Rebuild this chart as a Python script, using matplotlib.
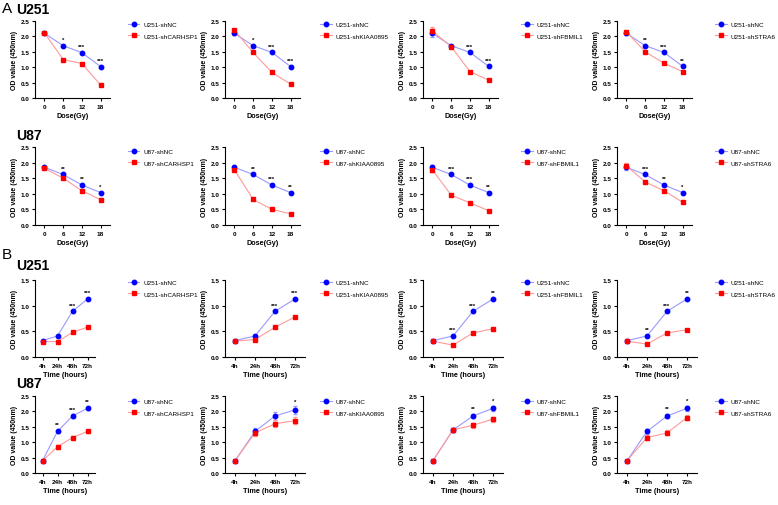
import matplotlib
matplotlib.use("Agg")
import matplotlib.pyplot as plt
from matplotlib.lines import Line2D

plt.rcParams['font.family'] = ['Liberation Sans', 'DejaVu Sans']

W, H = 778, 506

dose_labels = ["0", "6", "12", "18"]
time_labels = ["4h", "24h", "48h", "72h"]
genes = ["CARHSP1", "KIAA0895", "FBMIL1", "STRA6"]

# Row A-U251 (dose)
a251_nc = [[2.10, 1.70, 1.47, 1.02], [2.10, 1.70, 1.48, 1.02],
           [2.10, 1.70, 1.48, 1.03], [2.10, 1.70, 1.48, 1.03]]
a251_kd = [[2.12, 1.25, 1.12, 0.42], [2.20, 1.48, 0.83, 0.45],
           [2.17, 1.67, 0.86, 0.58], [2.15, 1.50, 1.13, 0.86]]
a251_err = [[0.03, 0.03, 0.03, 0.03], [0.04, 0.03, 0.03, 0.03],
            [0.12, 0.03, 0.03, 0.03], [0.04, 0.03, 0.03, 0.03]]
a251_sig = [["", "*", "***", "***"], ["", "*", "***", "***"],
            ["", "", "***", "***"], ["", "**", "***", "**"]]

# Row A-U87 (dose)
a87_nc = [[1.85, 1.62, 1.28, 1.04]] * 4
a87_kd = [[1.82, 1.50, 1.10, 0.81], [1.77, 0.82, 0.50, 0.36],
          [1.77, 0.96, 0.71, 0.46], [1.90, 1.38, 1.10, 0.73]]
a87_err = [[0.04, 0.04, 0.04, 0.03], [0.05, 0.03, 0.03, 0.03],
           [0.06, 0.03, 0.04, 0.03], [0.08, 0.03, 0.03, 0.03]]
a87_sig = [["", "**", "**", "*"], ["", "**", "***", "**"],
           ["", "***", "***", "**"], ["", "***", "**", "*"]]

# Row B-U251 (time)
b251_nc = [[0.32, 0.41, 0.89, 1.13]] * 4
b251_kd = [[0.30, 0.30, 0.48, 0.58], [0.31, 0.34, 0.58, 0.78],
           [0.31, 0.23, 0.47, 0.55], [0.31, 0.25, 0.47, 0.53]]
b251_err = [[0.02, 0.02, 0.02, 0.02]] * 4
b251_sig = [["", "", "***", "***"], ["", "", "***", "***"],
            ["", "***", "***", "**"], ["", "**", "***", "**"]]

# Row B-U87 (time)
b87_nc = [[0.40, 1.35, 1.85, 2.10], [0.40, 1.35, 1.85, 2.05],
          [0.40, 1.40, 1.85, 2.10], [0.40, 1.35, 1.85, 2.10]]
b87_kd = [[0.40, 0.85, 1.15, 1.35], [0.40, 1.30, 1.60, 1.70],
          [0.40, 1.40, 1.55, 1.75], [0.40, 1.15, 1.30, 1.80]]
b87_err = [[0.03, 0.06, 0.05, 0.05], [0.03, 0.10, 0.12, 0.12],
           [0.03, 0.06, 0.08, 0.08], [0.03, 0.08, 0.08, 0.08]]
b87_sig = [["", "**", "***", "**"], ["", "", "", "*"],
           ["", "", "**", "*"], ["", "", "**", "*"]]

fig = plt.figure(figsize=(W / 100, H / 100), dpi=100)

BLUE = "#0000ff"
RED = "#ff0000"
BLUE_L = "#9a9aff"
RED_L = "#ff9a9a"


def px_axes(x0, ytop, w, ybot):
    return fig.add_axes([x0 / W, 1 - ybot / H, w / W, (ybot - ytop) / H])


col_x = [35, 225, 423, 617]
leg_x = [128, 320, 521, 715]

rows = [
    dict(nc=a251_nc, kd=a251_kd, err=a251_err, sig=a251_sig, cell="U251",
         labels=dose_labels, xlabel="Dose(Gy)", ymax=2.5, ytop=22, ybot=99,
         legy=27, kind="dose"),
    dict(nc=a87_nc, kd=a87_kd, err=a87_err, sig=a87_sig, cell="U87",
         labels=dose_labels, xlabel="Dose(Gy)", ymax=2.5, ytop=148, ybot=226,
         legy=154, kind="dose"),
    dict(nc=b251_nc, kd=b251_kd, err=b251_err, sig=b251_sig, cell="U251",
         labels=time_labels, xlabel="Time (hours)", ymax=1.5, ytop=281, ybot=358,
         legy=285, kind="time"),
    dict(nc=b87_nc, kd=b87_kd, err=b87_err, sig=b87_sig, cell="U87",
         labels=time_labels, xlabel="Time (hours)", ymax=2.5, ytop=397, ybot=474,
         legy=404, kind="time"),
]

xs = [0, 1, 2, 3]
for r in rows:
    for c in range(4):
        if r["kind"] == "dose":
            w = 75
        else:
            w = 60 if c == 0 else 80
        ax = px_axes(col_x[c], r["ytop"], w, r["ybot"])
        ax.plot(xs, r["nc"][c], color=BLUE_L, lw=0.8, zorder=2)
        ax.plot(xs, r["kd"][c], color=RED_L, lw=0.8, zorder=2)
        ax.errorbar(xs, r["nc"][c], yerr=r["err"][c], fmt="none",
                    ecolor=BLUE_L, elinewidth=0.6, capsize=1.2, zorder=2)
        ax.errorbar(xs, r["kd"][c], yerr=r["err"][c], fmt="none",
                    ecolor=RED_L, elinewidth=0.6, capsize=1.2, zorder=2)
        ax.plot(xs, r["nc"][c], "o", color=BLUE, ms=3.2, zorder=3)
        ax.plot(xs, r["kd"][c], "s", color=RED, ms=3.2, zorder=3)
        for i, s in enumerate(r["sig"][c]):
            if s:
                top = max(r["nc"][c][i], r["kd"][c][i]) + r["err"][c][i]
                ax.text(xs[i], top + r["ymax"] * 0.035, s, ha="center",
                        va="bottom", fontsize=4.3, fontweight="bold")
        ax.set_ylim(0, r["ymax"])
        ax.set_xlim(-0.5, 3.5)
        step = 0.5
        ticks = [i * step for i in range(int(round(r["ymax"] / step)) + 1)]
        ax.set_yticks(ticks)
        ax.set_yticklabels([f"{t:.1f}" for t in ticks])
        ax.set_xticks(xs)
        ax.set_xticklabels(r["labels"])
        for sp in ["top", "right"]:
            ax.spines[sp].set_visible(False)
        for sp in ["left", "bottom"]:
            ax.spines[sp].set_linewidth(0.8)
        ax.tick_params(axis="both", length=2.5, width=0.8, pad=1.5,
                       labelsize=4.6)
        for lab in ax.get_xticklabels() + ax.get_yticklabels():
            lab.set_fontweight("bold")
        ax.set_xlabel(r["xlabel"], fontsize=5.2, fontweight="bold", labelpad=2.5)
        ax.set_ylabel("OD value (450nm)", fontsize=5.0, fontweight="bold",
                      labelpad=2)
        handles = [
            Line2D([], [], color=BLUE_L, lw=0.8, marker="o", mfc=BLUE,
                   mec=BLUE, ms=3.2),
            Line2D([], [], color=RED_L, lw=0.8, marker="s", mfc=RED,
                   mec=RED, ms=3.2),
        ]
        names = [f"{r['cell']}-shNC", f"{r['cell']}-sh{genes[c]}"]
        fig.legend(handles, names, loc="upper left",
                   bbox_to_anchor=(leg_x[c] / W, 1 - (r["legy"] - 4.5) / H),
                   frameon=False, fontsize=4.6, handlelength=1.8,
                   handletextpad=0.6, labelspacing=0.95, borderaxespad=0,
                   borderpad=0)

fig.text(2 / W, 1 - 9 / H, "A", fontsize=11, va="center", ha="left")
fig.text(16 / W, 1 - 10 / H, "U251", fontsize=10, fontweight="bold",
         va="center", ha="left")
fig.text(16 / W, 1 - 136 / H, "U87", fontsize=10, fontweight="bold",
         va="center", ha="left")
fig.text(2 / W, 1 - 255 / H, "B", fontsize=11, va="center", ha="left")
fig.text(16 / W, 1 - 266 / H, "U251", fontsize=10, fontweight="bold",
         va="center", ha="left")
fig.text(16 / W, 1 - 384 / H, "U87", fontsize=10, fontweight="bold",
         va="center", ha="left")

fig.savefig("out.png", dpi=100)
